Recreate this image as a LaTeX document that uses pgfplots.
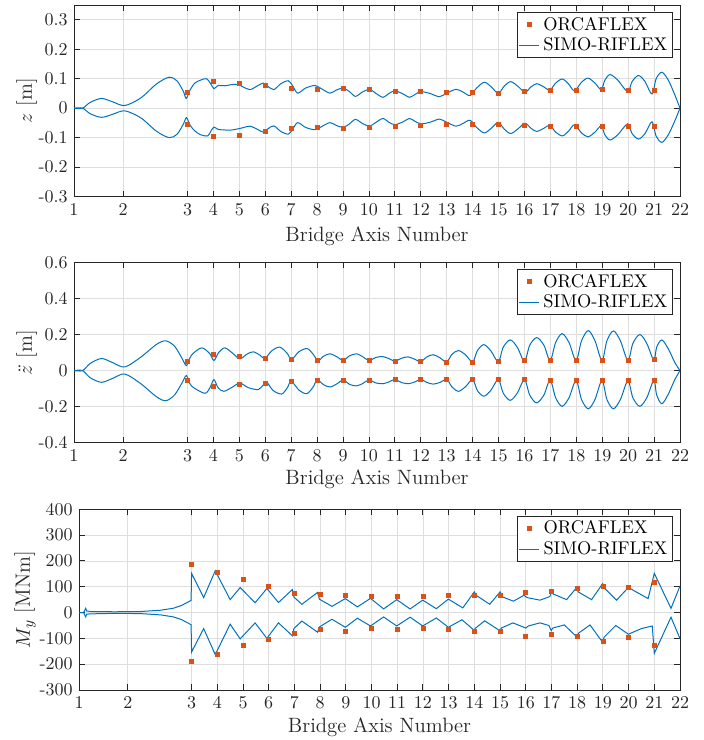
\documentclass[border=0pt]{standalone}
\usepackage{pgfplots}
\pgfplotsset{compat=1.18}

\definecolor{mblue}{rgb}{0,0.447,0.741}
\definecolor{morange}{rgb}{0.85,0.325,0.098}
\definecolor{axgray}{rgb}{0.15,0.15,0.15}

% x = position along bridge, in units of the regular pontoon spacing (axis 3 -> 3)
\pgfplotsset{
  bridge/.style={
    scale only axis,
    xmin=-1.38, xmax=22,
    xtick={-1.38,0.52,3,4,5,6,7,8,9,10,11,12,13,14,15,16,17,18,19,20,21,22},
    xticklabels={1,2,3,4,5,6,7,8,9,10,11,12,13,14,15,16,17,18,19,20,21,22},
    xlabel={Bridge Axis Number},
    xlabel style={at={(axis description cs:0.5,-0.205)}, anchor=center},
    grid=major,
    grid style={black!13, line width=0.45pt},
    axis line style={axgray, line width=0.5pt},
    tick style={axgray, line width=0.5pt},
    tick align=inside,
    major tick length=3.3pt,
    ticklabel style={text=axgray, font=\fontsize{9.9}{11}\selectfont},
    label style={text=axgray, font=\fontsize{11.4}{13}\selectfont},
    legend style={font=\fontsize{10.1}{12}\selectfont, draw=axgray, line width=0.5pt,
      inner xsep=1pt, inner ysep=0.5pt, row sep=-1.5pt,
      at={(0.989,0.964)}, anchor=north east, cells={anchor=west}},
    legend image code/.code={\draw[mark repeat=2,mark phase=2,#1]
      plot coordinates {(0pt,0pt) (5.5pt,0pt) (11pt,0pt)};},
  },
  simo/.style={mblue, line width=0.55pt, forget plot},
  orca/.style={only marks, mark=square*, mark size=1.1pt, morange,
    mark options={draw=morange, fill=morange}, forget plot},
}

\begin{document}
\begin{tikzpicture}
\useasboundingbox (0,0) rectangle (387.2pt,-407pt);

% ---------------- z ----------------
\begin{axis}[bridge, at={(40.7pt,-2.75pt)}, anchor=north west,
  width=333.3pt, height=105.4pt,
  ymin=-0.3, ymax=0.35,
  ytick={-0.3,-0.2,-0.1,0,0.1,0.2,0.3},
  yticklabels={-0.3,-0.2,-0.1,0,0.1,0.2,0.3},
  ylabel={$z$ [m]},
  ylabel style={at={(axis description cs:-0.078,0.5)}, anchor=center}]
\addlegendimage{only marks, mark=square*, mark size=1.1pt, morange}
\addlegendentry{ORCAFLEX}
\addlegendimage{mblue, line width=0.55pt}
\addlegendentry{SIMO-RIFLEX}
\addplot[simo, smooth] table {
-1.38 0
-1.05 0
-0.75 0.020
-0.32 0.033
0.10 0.022
0.58 0.009
1.20 0.035
1.80 0.082
2.29 0.105
2.60 0.092
2.85 0.055
2.95 0.033
3.10 0.062
3.28 0.085
3.50 0.095
3.73 0.100
3.90 0.082
4.02 0.066
4.18 0.077
4.45 0.076
4.70 0.080
4.95 0.080
5.15 0.072
5.41 0.063
5.70 0.076
5.92 0.085
6.10 0.074
6.33 0.063
6.60 0.083
6.89 0.093
7.05 0.076
7.25 0.051
7.55 0.068
7.92 0.077
8.20 0.064
8.50 0.051
8.75 0.062
9.01 0.068
9.25 0.056
9.48 0.040
9.75 0.055
10.02 0.064
10.27 0.050
10.54 0.037
10.77 0.050
11.00 0.059
11.30 0.049
11.57 0.037
11.80 0.048
12.02 0.056
12.35 0.050
12.72 0.039
13.00 0.051
13.36 0.064
13.62 0.055
13.90 0.043
14.15 0.068
14.45 0.088
14.72 0.072
14.99 0.050
15.22 0.075
15.47 0.090
15.75 0.074
16.02 0.054
16.25 0.072
16.47 0.083
16.75 0.072
16.98 0.061
17.20 0.085
17.46 0.099
17.70 0.082
17.93 0.059
18.20 0.088
18.45 0.102
18.72 0.085
18.96 0.063
19.10 0.095
19.30 0.114
19.60 0.095
19.98 0.056
20.15 0.090
20.40 0.111
20.65 0.090
20.92 0.048
21.08 0.100
21.30 0.122
21.55 0.095
21.80 0.045
22.00 0
};
\addplot[simo, smooth] table {
-1.38 0
-1.05 0
-0.75 -0.019
-0.32 -0.031
0.10 -0.021
0.58 -0.009
1.20 -0.033
1.80 -0.078
2.29 -0.100
2.60 -0.088
2.85 -0.052
2.96 -0.032
3.10 -0.058
3.28 -0.077
3.50 -0.090
3.78 -0.094
3.90 -0.078
4.02 -0.064
4.18 -0.072
4.45 -0.074
4.70 -0.074
4.95 -0.070
5.15 -0.066
5.41 -0.061
5.70 -0.072
5.92 -0.081
6.10 -0.070
6.33 -0.060
6.60 -0.079
6.89 -0.088
7.05 -0.072
7.25 -0.049
7.55 -0.065
7.92 -0.073
8.20 -0.061
8.50 -0.049
8.75 -0.059
9.01 -0.065
9.25 -0.053
9.48 -0.038
9.75 -0.052
10.02 -0.061
10.27 -0.048
10.54 -0.035
10.77 -0.048
11.00 -0.056
11.30 -0.047
11.57 -0.035
11.80 -0.046
12.02 -0.053
12.35 -0.048
12.72 -0.037
13.00 -0.048
13.36 -0.061
13.62 -0.052
13.90 -0.041
14.15 -0.065
14.45 -0.084
14.72 -0.068
14.99 -0.048
15.22 -0.071
15.47 -0.086
15.75 -0.070
16.02 -0.051
16.25 -0.068
16.47 -0.079
16.75 -0.068
16.98 -0.058
17.20 -0.081
17.46 -0.094
17.70 -0.078
17.93 -0.056
18.20 -0.084
18.45 -0.097
18.72 -0.081
18.96 -0.060
19.10 -0.090
19.30 -0.108
19.60 -0.090
19.98 -0.053
20.15 -0.086
20.40 -0.105
20.65 -0.086
20.92 -0.046
21.08 -0.095
21.30 -0.116
21.55 -0.090
21.80 -0.043
22.00 0
};
\addplot[orca] table {
3 0.053
4 0.092
5 0.084
6 0.076
7 0.067
8 0.064
9 0.067
10 0.064
11 0.058
12 0.056
13 0.055
14 0.052
15 0.051
16 0.056
17 0.059
18 0.062
19 0.064
20 0.061
21 0.059
};
\addplot[orca] table {
3 -0.056
4 -0.097
5 -0.091
6 -0.077
7 -0.068
8 -0.066
9 -0.068
10 -0.066
11 -0.060
12 -0.057
13 -0.054
14 -0.056
15 -0.056
16 -0.059
17 -0.061
18 -0.062
19 -0.062
20 -0.063
21 -0.062
};
\end{axis}

% ---------------- z double dot ----------------
\begin{axis}[bridge, at={(40.7pt,-144.3pt)}, anchor=north west,
  width=333.3pt, height=99.2pt,
  ymin=-0.4, ymax=0.6,
  ytick={-0.4,-0.2,0,0.2,0.4,0.6},
  yticklabels={-0.4,-0.2,0,0.2,0.4,0.6},
  ylabel={$\ddot{z}$ [m]},
  ylabel style={at={(axis description cs:-0.078,0.5)}, anchor=center}]
\addlegendimage{only marks, mark=square*, mark size=1.1pt, morange}
\addlegendentry{ORCAFLEX}
\addlegendimage{mblue, line width=0.55pt}
\addlegendentry{SIMO-RIFLEX}
\addplot[simo, smooth] table {
-1.38 0
-1.05 0
-0.75 0.040
-0.32 0.067
0.10 0.045
0.58 0.020
1.20 0.075
1.80 0.145
2.16 0.165
2.50 0.135
2.80 0.065
2.96 0.028
3.15 0.085
3.54 0.126
3.85 0.095
4.02 0.056
4.20 0.100
4.44 0.126
4.75 0.095
5.02 0.065
5.30 0.092
5.54 0.104
5.80 0.085
5.99 0.067
6.25 0.110
6.56 0.130
6.85 0.095
7.01 0.061
7.30 0.105
7.62 0.122
7.85 0.090
8.04 0.054
8.25 0.080
8.50 0.093
8.78 0.075
9.01 0.056
9.25 0.082
9.53 0.093
9.78 0.075
10.00 0.056
10.25 0.072
10.52 0.078
10.78 0.066
11.00 0.052
11.25 0.068
11.51 0.076
11.78 0.062
12.00 0.049
12.22 0.075
12.48 0.088
12.75 0.070
13.00 0.047
13.20 0.090
13.45 0.111
13.72 0.088
14.00 0.048
14.18 0.110
14.43 0.144
14.70 0.110
14.99 0.049
15.18 0.130
15.45 0.170
15.72 0.130
16.00 0.052
16.20 0.140
16.47 0.183
16.75 0.140
16.99 0.055
17.20 0.155
17.45 0.205
17.72 0.155
17.99 0.055
18.20 0.165
18.46 0.222
18.72 0.165
18.99 0.055
19.18 0.165
19.43 0.220
19.70 0.165
19.99 0.056
20.18 0.150
20.45 0.200
20.72 0.150
20.99 0.058
21.10 0.130
21.30 0.170
21.55 0.120
21.80 0.045
22.00 0
};
\addplot[simo, smooth] table {
-1.38 0
-1.05 0
-0.75 -0.040
-0.32 -0.065
0.10 -0.044
0.58 -0.019
1.20 -0.073
1.80 -0.145
2.16 -0.167
2.50 -0.135
2.80 -0.065
2.96 -0.028
3.15 -0.085
3.67 -0.126
3.88 -0.090
4.02 -0.050
4.18 -0.095
4.40 -0.115
4.75 -0.090
5.02 -0.069
5.35 -0.095
5.73 -0.105
5.92 -0.080
6.05 -0.063
6.30 -0.110
6.63 -0.130
6.85 -0.095
7.00 -0.059
7.30 -0.108
7.60 -0.128
7.85 -0.090
8.00 -0.052
8.25 -0.078
8.50 -0.091
8.78 -0.072
9.00 -0.052
9.25 -0.076
9.52 -0.085
9.78 -0.070
10.00 -0.052
10.25 -0.068
10.54 -0.073
10.78 -0.062
11.00 -0.049
11.25 -0.066
11.52 -0.073
11.78 -0.062
12.00 -0.049
12.22 -0.065
12.48 -0.075
12.75 -0.065
13.00 -0.049
13.20 -0.090
13.45 -0.115
13.72 -0.090
14.00 -0.049
14.18 -0.110
14.43 -0.142
14.70 -0.110
14.99 -0.049
15.18 -0.125
15.45 -0.165
15.72 -0.125
16.00 -0.050
16.20 -0.135
16.47 -0.179
16.75 -0.135
16.99 -0.052
17.20 -0.150
17.45 -0.198
17.72 -0.150
17.99 -0.054
18.20 -0.160
18.46 -0.212
18.72 -0.160
18.99 -0.054
19.18 -0.160
19.43 -0.212
19.70 -0.160
19.99 -0.056
20.18 -0.150
20.45 -0.198
20.72 -0.150
20.99 -0.054
21.10 -0.135
21.30 -0.184
21.55 -0.130
21.80 -0.050
22.00 0
};
\addplot[orca] table {
3 0.052
4 0.089
5 0.081
6 0.067
7 0.061
8 0.056
9 0.056
10 0.056
11 0.052
12 0.049
13 0.047
14 0.047
15 0.050
16 0.054
17 0.056
18 0.056
19 0.056
20 0.058
21 0.060
};
\addplot[orca] table {
3 -0.054
4 -0.087
5 -0.076
6 -0.069
7 -0.061
8 -0.054
9 -0.054
10 -0.053
11 -0.049
12 -0.049
13 -0.049
14 -0.049
15 -0.049
16 -0.050
17 -0.052
18 -0.054
19 -0.054
20 -0.056
21 -0.054
};
\end{axis}

% ---------------- M_y ----------------
\begin{axis}[bridge, at={(43.45pt,-280.1pt)}, anchor=north west,
  width=330.55pt, height=99.4pt,
  ymin=-300, ymax=400,
  ytick={-300,-200,-100,0,100,200,300,400},
  yticklabels={-300,-200,-100,0,100,200,300,400},
  ylabel={$M_y$ [MNm]},
  ylabel style={at={(axis description cs:-0.09,0.5)}, anchor=center}]
\addlegendimage{only marks, mark=square*, mark size=1.1pt, morange}
\addlegendentry{ORCAFLEX}
\addlegendimage{mblue, line width=0.55pt}
\addlegendentry{SIMO-RIFLEX}
\addplot[simo] table {
-1.38 0
-1.20 0
-1.12 16
-1.08 6
-0.90 4
0.00 3
1.00 4
1.80 9
2.30 17
2.60 27
2.85 40
2.98 47
3.00 152
3.47 58
3.92 162
4.50 50
4.89 97
5.47 38
5.93 93
6.38 39
6.92 89
6.98 60
7.29 32
7.90 78
7.97 52
8.46 24
8.98 54
9.45 22
9.96 55
10.47 14
10.98 50
11.50 14
11.99 48
12.52 15
12.99 52
13.55 18
14.00 80
14.05 68
14.60 32
15.00 80
15.06 62
15.52 44
15.93 67
16.05 58
16.55 48
16.94 62
17.00 85
17.06 72
17.59 50
17.98 97
18.04 80
18.56 50
18.99 112
19.06 95
19.53 48
19.99 97
20.76 54
21.00 152
21.65 16
22.00 103
};
\addplot[simo] table {
-1.38 0
-1.20 0
-1.12 -17
-1.08 -6
-0.90 -5
0.00 -3
1.00 -4
1.80 -9
2.30 -17
2.60 -27
2.85 -40
2.98 -47
3.00 -153
3.47 -62
3.92 -163
4.50 -45
4.89 -102
5.47 -40
5.93 -100
6.38 -40
6.92 -90
6.98 -62
7.29 -33
7.90 -76
7.97 -56
8.46 -26
8.98 -57
9.45 -22
9.96 -52
10.47 -17
10.98 -52
11.50 -18
11.99 -52
12.52 -21
12.99 -57
13.52 -28
13.98 -68
14.05 -60
14.40 -32
14.99 -70
15.05 -60
15.50 -40
16.00 -60
16.10 -52
16.55 -40
16.90 -50
16.99 -70
17.05 -60
17.50 -48
17.98 -94
18.05 -80
18.50 -48
18.98 -114
19.05 -95
19.50 -50
19.99 -84
20.50 -62
20.92 -52
21.00 -158
21.65 -18
22.00 -101
};
\addplot[orca] table {
3 188
4 157
5 128
6 103
7 76
8 70
9 66
10 63
11 63
12 61
13 65
14 66
15 67
16 80
17 84
18 92
19 102
20 97
21 118
};
\addplot[orca] table {
3 -190
4 -162
5 -127
6 -102
7 -79
8 -67
9 -71
10 -63
11 -65
12 -63
13 -66
14 -72
15 -71
16 -91
17 -85
18 -94
19 -111
20 -97
21 -129
};
\end{axis}
\end{tikzpicture}
\end{document}
